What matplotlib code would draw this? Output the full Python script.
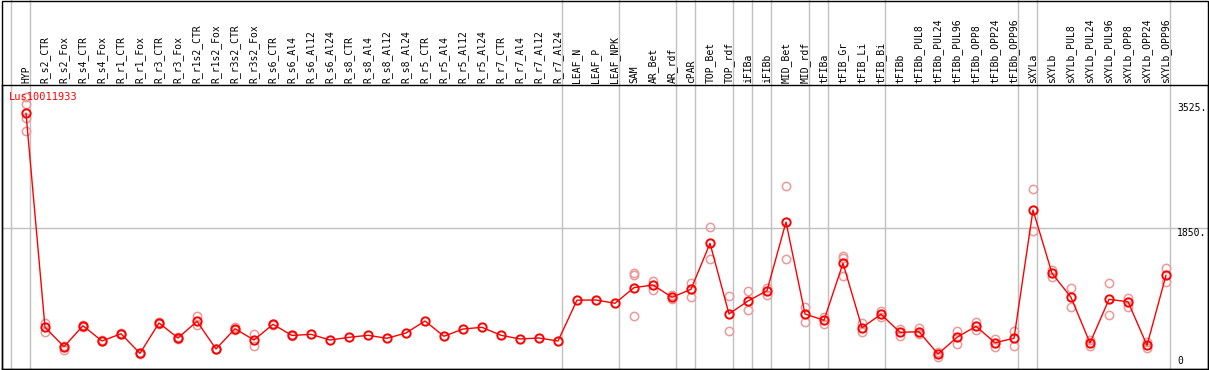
import numpy as np
import matplotlib
matplotlib.use("Agg")
import matplotlib.pyplot as plt
import matplotlib.transforms as mtransforms
from matplotlib.patches import Rectangle

nan = np.nan

# column names, in plot order
columns = ["HYP", "R_s2_CTR", "R_s2_Fox", "R_s4_CTR", "R_s4_Fox", "R_r1_CTR", "R_r1_Fox",
           "R_r3_CTR", "R_r3_Fox", "R_r1s2_CTR", "R_r1s2_Fox", "R_r3s2_CTR", "R_r3s2_Fox",
           "R_s6_CTR", "R_s6_Al4", "R_s6_Al12", "R_s6_Al24", "R_s8_CTR", "R_s8_Al4",
           "R_s8_Al12", "R_s8_Al24", "R_r5_CTR", "R_r5_Al4", "R_r5_Al12", "R_r5_Al24",
           "R_r7_CTR", "R_r7_Al4", "R_r7_Al12", "R_r7_Al24", "LEAF_N", "LEAF_P", "LEAF_NPK",
           "SAM", "AR_Bet", "AR_rdf", "cPAR", "TOP_Bet", "TOP_rdf", "iFIBa", "iFIBb",
           "MID_Bet", "MID_rdf", "tFIBa", "tFIB_Gr", "tFIB_Li", "tFIB_Bi", "tFIBb",
           "tFIBb_PUL8", "tFIBb_PUL24", "tFIBb_PUL96", "tFIBb_OPP8", "tFIBb_OPP24",
           "tFIBb_OPP96", "sXYLa", "sXYLb", "sXYLb_PUL8", "sXYLb_PUL24", "sXYLb_PUL96",
           "sXYLb_OPP8", "sXYLb_OPP24", "sXYLb_OPP96"]

# mean expression per column
means = [3385, 524, 265, 545, 341, 438, 176, 582, 381, 604, 234, 505, 354, 564, 415,
         430, 354, 390, 417, 377, 448, 608, 404, 501, 524, 417, 368, 381, 341,
         887, 889, 845, 1054, 1090, 925, 1032, 1647, 702, 876, 1013, 1932, 702, 618,
         1380, 519, 698, 457, 465, 167, 390, 537, 318, 377, 2092, 1246, 925, 314,
         898, 866, 283, 1219]

# replicate values (nan = no replicate visible)
rep_hi = [3505, 586, 280, 560, 350, 445, 185, 595, 390, 675, 240, 532, 434, 570, 420,
          nan, nan, nan, nan, nan, nan, nan, nan, nan, nan, nan, nan, nan, nan,
          nan, nan, nan, 1246, 1143, 956, 1120, 1861, 943, 1009, 1054, 2409, 800, 666,
          1477, 578, 746, 501, 519, 198, 475, 591, 368, 475, 2369, 1290, 1049, 350,
          1112, 912, 324, 1313]
rep_lo = [3318, 465, 221, 530, 335, 430, 170, 570, 370, 555, 230, 490, 278, 560, 410,
          nan, nan, nan, nan, nan, nan, nan, nan, nan, nan, nan, nan, nan, nan,
          nan, nan, nan, 675, 1023, 898, 933, 1433, 470, 751, 960, 1433, 599, 568,
          1214, 457, 666, 412, 430, 131, 297, 488, 265, 278, 1807, 1193, 800, 274,
          688, 800, 243, 1134]
rep_extra = [3152, nan, nan, nan, nan, nan, nan, nan, nan, nan, nan, nan, nan, nan, nan,
             nan, nan, nan, nan, nan, nan, nan, nan, nan, nan, nan, nan, nan, nan,
             nan, nan, nan, 1223, nan, nan, nan, nan, nan, nan, nan, nan, nan, nan,
             1446, nan, nan, nan, nan, nan, nan, nan, nan, nan, nan, nan, nan, nan,
             nan, nan, nan, nan]
rep_top = 3607  # fourth HYP replicate

# last column index of each group (gray separator after it)
group_ends = [-1, 0, 28, 31, 34, 35, 37, 38, 39, 41, 42, 45, 52, 53, 60]

y_labels = [3525, 1850, 0]
gene = "Lus10011933"

W, H = 1209, 370
fig = plt.figure(figsize=(W / 100, H / 100), dpi=100)
# plot region: x 1.5..1207.5 px, y 85..369 px from top
ax = fig.add_axes([1.5 / W, 1 / H, 1206 / W, 284 / H])
ax.set_xlim((1.5 - 26) / 19, (1207.5 - 26) / 19)
ax.set_ylim((366.5 - 369) / 0.0748, (366.5 - 85) / 0.0748)
ax.set_xticks([])
ax.set_yticks([])
for s in ax.spines.values():
    s.set_color("black")
    s.set_linewidth(1)

grey = "#c0c0c0"
ax.axhline(1850, color=grey, lw=1, zorder=1)
for g in group_ends:
    ax.axvline(g + 0.23, ymin=0, ymax=1 + 85 / 284, color=grey, lw=1,
               clip_on=False, zorder=1)

x = np.arange(len(columns))
rep_kw = dict(ls="none", marker="o", ms=6, mfc="none", mec="#ee9999", mew=1.1, zorder=2)
ax.plot(x, rep_hi, **rep_kw)
ax.plot(x, rep_lo, **rep_kw)
ax.plot(x, rep_extra, **rep_kw)
ax.plot([0], [rep_top], **rep_kw)
ax.plot(x, means, color="red", lw=1, marker="o", ms=6, mfc="none", mec="red",
        mew=1.4, zorder=3)

mono = "DejaVu Sans Mono"
trans = mtransforms.blended_transform_factory(ax.transData, ax.transAxes)
for i, name in enumerate(columns):
    ax.text(i, 1 + 2 / 284, name, transform=trans, rotation=90, ha="center",
            va="bottom", family=mono, fontsize=7, color="black")

xl = (1177 - 26) / 19
for v in y_labels:
    ax.text(xl, v, f"{v}." if v else "0", ha="left",
            va="top" if v else "bottom", family=mono, fontsize=7, color="black")

fig.text(9 / W, 1 - 97 / H, gene, ha="left", va="center", family=mono,
         fontsize=7.5, color="red")

fig.patches.append(Rectangle((1.5 / W, 1 / H), 1206 / W, 368.5 / H, fill=False,
                             ec="black", lw=1, transform=fig.transFigure))

fig.savefig("out.png", dpi=100)
